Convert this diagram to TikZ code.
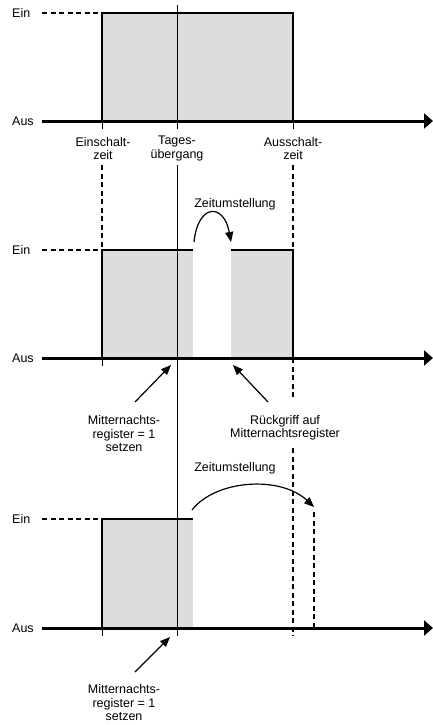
\documentclass[tikz,border=0pt]{standalone}
\usepackage{fontspec}
\setmainfont{Liberation Sans}
\usetikzlibrary{arrows.meta}
\definecolor{fillgray}{RGB}{221,221,221}
\begin{document}
\begin{tikzpicture}[x=1pt,y=-1pt,
  lbl/.style={font=\fontsize{12.5}{13.5}\selectfont, inner sep=0pt, align=center},
  lvl/.style={font=\fontsize{12.5}{13.5}\selectfont, inner sep=0pt, anchor=west},
  axisline/.style={line width=3pt, -{Triangle[length=9pt,width=15pt]}},
  border/.style={line width=2.5pt, line join=miter},
  dashline/.style={line width=1.2pt, dash pattern=on 5pt off 3.5pt},
  thinline/.style={line width=1pt},
  pointer/.style={line width=1.2pt, -{Triangle[length=10pt,width=8pt]}},
  ]
\useasboundingbox (0,0) rectangle (433,725);

% ---------- fills
\fill[fillgray] (102,13) rectangle (293,121);
\fill[fillgray] (102,250) rectangle (193,358);
\fill[fillgray] (231,250) rectangle (293,358);
\fill[fillgray] (102,519) rectangle (193,628);

% ---------- day transition line
\draw[thinline] (177,5) -- (177,129);
\draw[thinline] (177,165) -- (177,636);

% ---------- dashed guides
\draw[dashline] (42,13) -- (102,13);
\draw[dashline] (42,250) -- (102,250);
\draw[dashline] (42,519) -- (102,519);
\draw[dashline] (102,165) -- (102,250);
\draw[dashline] (293,165) -- (293,250);
\draw[dashline] (293,358) -- (293,398);
\draw[dashline] (293,448) -- (293,636);
\draw[dashline] (314,512) -- (314,628);

% ---------- borders
\draw[border] (102,121) -- (102,13) -- (293,13) -- (293,121);
\draw[border] (102,358) -- (102,250) -- (193,250);
\draw[border] (231,250) -- (293,250) -- (293,358);
\draw[border] (102,628) -- (102,519) -- (193,519);

% ---------- axes
\coordinate (a1s) at (42,121);  \coordinate (a1e) at (433,121);
\coordinate (a2s) at (42,358);  \coordinate (a2e) at (433,358);
\coordinate (a3s) at (42,628);  \coordinate (a3e) at (433,628);
\draw[axisline] (a1s) -- (a1e);
\draw[axisline] (a2s) -- (a2e);
\draw[axisline] (a3s) -- (a3e);

% ---------- ticks
\draw[thinline] (102,121) -- (102,129);
\draw[thinline] (293,121) -- (293,129);
\draw[thinline] (102,358) -- (102,366);
\draw[thinline] (102,628) -- (102,636);

% ---------- level labels
\node[lvl] (ein1) at (12,13) {Ein};
\node[lvl] (aus1) at (12,121) {Aus};
\node[lvl] (ein2) at (12,250) {Ein};
\node[lvl] (aus2) at (12,358) {Aus};
\node[lvl] (ein3) at (12,519) {Ein};
\node[lvl] (aus3) at (12,628) {Aus};

% ---------- top labels
\node[lbl] (einz) at (103,148.5) {Einschalt-\\zeit};
\node[lbl] (tag) at (177,148.5) {Tages-\\übergang};
\node[lbl] (ausz) at (293,148.5) {Ausschalt-\\zeit};

% ---------- middle diagram
\node[lbl] (zu1) at (235,204) {Zeitumstellung};
\coordinate (c1s) at (194,242);
\coordinate (c1e) at (231,242);
\draw[pointer] (c1s) .. controls (198,203) and (224,203) .. (c1e);

\node[lbl] (mn1) at (124,434) {Mitternachts-\\register = 1\\setzen};
\coordinate (p1s) at (135,402);
\coordinate (p1e) at (171,365);
\draw[pointer] (p1s) -- (p1e);

\node[lbl] (rg) at (285,428) {Rückgriff auf\\Mitternachtsregister};
\coordinate (p2s) at (268,402);
\coordinate (p2e) at (233,365);
\draw[pointer] (p2s) -- (p2e);

% ---------- bottom diagram
\node[lbl] (zu2) at (235,468) {Zeitumstellung};
\coordinate (c2s) at (192,510);
\coordinate (c2e) at (314,507);
\draw[pointer] (c2s) .. controls (215,480) and (280,475) .. (c2e);

\node[lbl] (mn2) at (124,703) {Mitternachts-\\register = 1\\setzen};
\coordinate (p3s) at (135,672);
\coordinate (p3e) at (170,637);
\draw[pointer] (p3s) -- (p3e);
\end{tikzpicture}
\end{document}
